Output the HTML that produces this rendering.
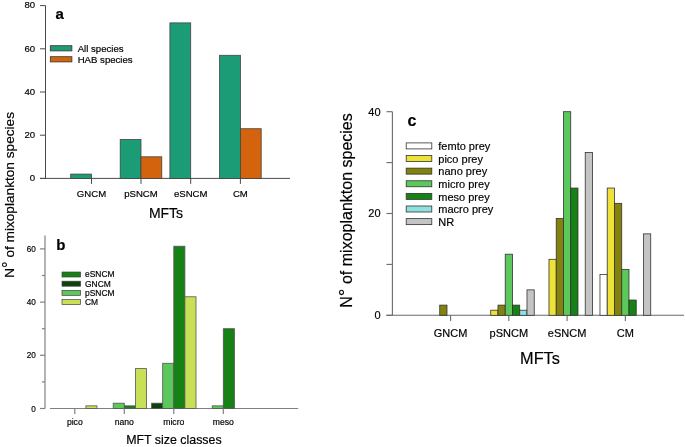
<!DOCTYPE html>
<html><head><meta charset="utf-8"><style>
html,body{margin:0;padding:0;background:#fff;}
body{width:685px;height:447px;overflow:hidden;}
svg{display:block;font-family:"Liberation Sans", sans-serif;will-change:transform;}
text{stroke:#000;stroke-width:0.18px;}
</style></head><body>
<svg width="685" height="447" viewBox="0 0 685 447">
<defs><filter id="bl" filterUnits="userSpaceOnUse" x="0" y="0" width="685" height="447"><feGaussianBlur stdDeviation="0.35"/></filter></defs>
<rect x="0" y="0" width="685" height="447" fill="#fff"/>
<g filter="url(#bl)">
<line x1="45.50" y1="5.50" x2="45.50" y2="178.40" stroke="#4a4a4a" stroke-width="1"/>
<line x1="40.00" y1="178.40" x2="45.50" y2="178.40" stroke="#4a4a4a" stroke-width="1"/>
<text x="35.20" y="181.20" font-size="9.6" text-anchor="end" font-weight="normal" fill="#000" >0</text>
<line x1="40.00" y1="135.20" x2="45.50" y2="135.20" stroke="#4a4a4a" stroke-width="1"/>
<text x="35.20" y="138.00" font-size="9.6" text-anchor="end" font-weight="normal" fill="#000" >20</text>
<line x1="40.00" y1="92.00" x2="45.50" y2="92.00" stroke="#4a4a4a" stroke-width="1"/>
<text x="35.20" y="94.80" font-size="9.6" text-anchor="end" font-weight="normal" fill="#000" >40</text>
<line x1="40.00" y1="48.80" x2="45.50" y2="48.80" stroke="#4a4a4a" stroke-width="1"/>
<text x="35.20" y="51.60" font-size="9.6" text-anchor="end" font-weight="normal" fill="#000" >60</text>
<line x1="40.00" y1="5.60" x2="45.50" y2="5.60" stroke="#4a4a4a" stroke-width="1"/>
<text x="35.20" y="8.40" font-size="9.6" text-anchor="end" font-weight="normal" fill="#000" >80</text>
<line x1="40.00" y1="178.40" x2="290.00" y2="178.40" stroke="#4a4a4a" stroke-width="1"/>
<rect x="70.70" y="174.08" width="20.80" height="4.32" fill="#1e9b77" stroke="#444" stroke-width="0.8"/>
<line x1="91.50" y1="178.40" x2="91.50" y2="183.90" stroke="#4a4a4a" stroke-width="1"/>
<text x="91.50" y="197.20" font-size="9.6" text-anchor="middle" font-weight="normal" fill="#000" >GNCM</text>
<rect x="120.20" y="139.52" width="20.80" height="38.88" fill="#1e9b77" stroke="#444" stroke-width="0.8"/>
<rect x="141.00" y="156.80" width="20.80" height="21.60" fill="#d4630a" stroke="#444" stroke-width="0.8"/>
<line x1="141.00" y1="178.40" x2="141.00" y2="183.90" stroke="#4a4a4a" stroke-width="1"/>
<text x="141.00" y="197.20" font-size="9.6" text-anchor="middle" font-weight="normal" fill="#000" >pSNCM</text>
<rect x="169.90" y="22.88" width="20.80" height="155.52" fill="#1e9b77" stroke="#444" stroke-width="0.8"/>
<line x1="190.70" y1="178.40" x2="190.70" y2="183.90" stroke="#4a4a4a" stroke-width="1"/>
<text x="190.70" y="197.20" font-size="9.6" text-anchor="middle" font-weight="normal" fill="#000" >eSNCM</text>
<rect x="219.60" y="55.28" width="20.80" height="123.12" fill="#1e9b77" stroke="#444" stroke-width="0.8"/>
<rect x="240.40" y="128.72" width="20.80" height="49.68" fill="#d4630a" stroke="#444" stroke-width="0.8"/>
<line x1="240.40" y1="178.40" x2="240.40" y2="183.90" stroke="#4a4a4a" stroke-width="1"/>
<text x="240.40" y="197.20" font-size="9.6" text-anchor="middle" font-weight="normal" fill="#000" >CM</text>
<text x="166.00" y="217.60" font-size="14" text-anchor="middle" font-weight="normal" fill="#000" >MFTs</text>
<text x="55.40" y="19.10" font-size="15" text-anchor="start" font-weight="bold" fill="#000" >a</text>
<rect x="50.30" y="45.70" width="21.60" height="5.20" fill="#1e9b77" stroke="#333" stroke-width="0.8"/>
<rect x="50.30" y="56.70" width="21.60" height="5.20" fill="#d4630a" stroke="#333" stroke-width="0.8"/>
<text x="77.70" y="51.70" font-size="9.6" text-anchor="start" font-weight="normal" fill="#000" >All species</text>
<text x="77.70" y="62.60" font-size="9.6" text-anchor="start" font-weight="normal" fill="#000" >HAB species</text>
<text x="0" y="0" font-size="13.65" fill="#000" text-anchor="middle" transform="translate(14.3,194.9) rotate(-90)">N<tspan font-size="1.2em">°</tspan> of mixoplankton species</text>
<line x1="45.00" y1="235.60" x2="45.00" y2="408.50" stroke="#808080" stroke-width="1.2"/>
<line x1="40.00" y1="408.50" x2="45.00" y2="408.50" stroke="#808080" stroke-width="1.2"/>
<text x="35.80" y="411.60" font-size="8.2" text-anchor="end" font-weight="normal" fill="#000" >0</text>
<line x1="40.00" y1="355.30" x2="45.00" y2="355.30" stroke="#808080" stroke-width="1.2"/>
<text x="35.80" y="358.40" font-size="8.2" text-anchor="end" font-weight="normal" fill="#000" >20</text>
<line x1="40.00" y1="302.10" x2="45.00" y2="302.10" stroke="#808080" stroke-width="1.2"/>
<text x="35.80" y="305.20" font-size="8.2" text-anchor="end" font-weight="normal" fill="#000" >40</text>
<line x1="40.00" y1="248.90" x2="45.00" y2="248.90" stroke="#808080" stroke-width="1.2"/>
<text x="35.80" y="252.00" font-size="8.2" text-anchor="end" font-weight="normal" fill="#000" >60</text>
<line x1="42.00" y1="381.90" x2="45.00" y2="381.90" stroke="#808080" stroke-width="1.2"/>
<line x1="42.00" y1="328.70" x2="45.00" y2="328.70" stroke="#808080" stroke-width="1.2"/>
<line x1="42.00" y1="275.50" x2="45.00" y2="275.50" stroke="#808080" stroke-width="1.2"/>
<line x1="50.00" y1="408.50" x2="298.20" y2="408.50" stroke="#808080" stroke-width="1.2"/>
<rect x="85.90" y="405.84" width="11.10" height="2.66" fill="#c8e055" stroke="#555" stroke-width="0.8"/>
<line x1="74.80" y1="408.50" x2="74.80" y2="414.00" stroke="#808080" stroke-width="1.2"/>
<text x="74.80" y="424.80" font-size="8.6" text-anchor="middle" font-weight="normal" fill="#000" >pico</text>
<rect x="113.20" y="403.18" width="11.10" height="5.32" fill="#5cc85c" stroke="#555" stroke-width="0.8"/>
<rect x="124.30" y="405.84" width="11.10" height="2.66" fill="#138213" stroke="#555" stroke-width="0.8"/>
<rect x="135.40" y="368.60" width="11.10" height="39.90" fill="#c8e055" stroke="#555" stroke-width="0.8"/>
<line x1="124.30" y1="408.50" x2="124.30" y2="414.00" stroke="#808080" stroke-width="1.2"/>
<text x="124.30" y="424.80" font-size="8.6" text-anchor="middle" font-weight="normal" fill="#000" >nano</text>
<rect x="151.60" y="403.18" width="11.10" height="5.32" fill="#0a420a" stroke="#555" stroke-width="0.8"/>
<rect x="162.70" y="363.28" width="11.10" height="45.22" fill="#5cc85c" stroke="#555" stroke-width="0.8"/>
<rect x="173.80" y="246.24" width="11.10" height="162.26" fill="#138213" stroke="#555" stroke-width="0.8"/>
<rect x="184.90" y="296.78" width="11.10" height="111.72" fill="#c8e055" stroke="#555" stroke-width="0.8"/>
<line x1="173.80" y1="408.50" x2="173.80" y2="414.00" stroke="#808080" stroke-width="1.2"/>
<text x="173.80" y="424.80" font-size="8.6" text-anchor="middle" font-weight="normal" fill="#000" >micro</text>
<rect x="212.20" y="405.84" width="11.10" height="2.66" fill="#5cc85c" stroke="#555" stroke-width="0.8"/>
<rect x="223.30" y="328.70" width="11.10" height="79.80" fill="#138213" stroke="#555" stroke-width="0.8"/>
<line x1="223.30" y1="408.50" x2="223.30" y2="414.00" stroke="#808080" stroke-width="1.2"/>
<text x="223.30" y="424.80" font-size="8.6" text-anchor="middle" font-weight="normal" fill="#000" >meso</text>
<text x="173.90" y="443.80" font-size="12.4" text-anchor="middle" font-weight="normal" fill="#000" >MFT size classes</text>
<text x="56.30" y="250.30" font-size="15" text-anchor="start" font-weight="bold" fill="#000" >b</text>
<rect x="62.00" y="272.00" width="18.60" height="5.00" fill="#138213" stroke="#444" stroke-width="0.7"/>
<text x="85.00" y="277.30" font-size="8.45" text-anchor="start" font-weight="normal" fill="#000" >eSNCM</text>
<rect x="62.00" y="281.20" width="18.60" height="5.00" fill="#0a420a" stroke="#444" stroke-width="0.7"/>
<text x="85.00" y="286.50" font-size="8.45" text-anchor="start" font-weight="normal" fill="#000" >GNCM</text>
<rect x="62.00" y="290.40" width="18.60" height="5.00" fill="#5cc85c" stroke="#444" stroke-width="0.7"/>
<text x="85.00" y="295.70" font-size="8.45" text-anchor="start" font-weight="normal" fill="#000" >pSNCM</text>
<rect x="62.00" y="299.60" width="18.60" height="5.00" fill="#c8e055" stroke="#444" stroke-width="0.7"/>
<text x="85.00" y="304.90" font-size="8.45" text-anchor="start" font-weight="normal" fill="#000" >CM</text>
<line x1="392.40" y1="111.70" x2="392.40" y2="315.30" stroke="#6a6a6a" stroke-width="1.1"/>
<line x1="386.50" y1="315.30" x2="392.40" y2="315.30" stroke="#6a6a6a" stroke-width="1.1"/>
<text x="380.60" y="319.20" font-size="11" text-anchor="end" font-weight="normal" fill="#000" >0</text>
<line x1="386.50" y1="213.50" x2="392.40" y2="213.50" stroke="#6a6a6a" stroke-width="1.1"/>
<text x="380.60" y="217.40" font-size="11" text-anchor="end" font-weight="normal" fill="#000" >20</text>
<line x1="386.50" y1="111.70" x2="392.40" y2="111.70" stroke="#6a6a6a" stroke-width="1.1"/>
<text x="380.60" y="115.60" font-size="11" text-anchor="end" font-weight="normal" fill="#000" >40</text>
<line x1="386.40" y1="264.40" x2="392.40" y2="264.40" stroke="#6a6a6a" stroke-width="1.1"/>
<line x1="386.40" y1="162.60" x2="392.40" y2="162.60" stroke="#6a6a6a" stroke-width="1.1"/>
<line x1="386.30" y1="315.30" x2="684.00" y2="315.30" stroke="#6a6a6a" stroke-width="1.1"/>
<rect x="439.73" y="305.12" width="7.25" height="10.18" fill="#82820e" stroke="#333" stroke-width="0.8"/>
<line x1="450.60" y1="315.30" x2="450.60" y2="321.00" stroke="#6a6a6a" stroke-width="1.1"/>
<text x="450.60" y="336.80" font-size="11" text-anchor="middle" font-weight="normal" fill="#000" >GNCM</text>
<rect x="490.73" y="310.21" width="7.25" height="5.09" fill="#eee238" stroke="#333" stroke-width="0.8"/>
<rect x="497.98" y="305.12" width="7.25" height="10.18" fill="#82820e" stroke="#333" stroke-width="0.8"/>
<rect x="505.23" y="254.22" width="7.25" height="61.08" fill="#5cc85c" stroke="#333" stroke-width="0.8"/>
<rect x="512.48" y="305.12" width="7.25" height="10.18" fill="#138213" stroke="#333" stroke-width="0.8"/>
<rect x="519.73" y="310.21" width="7.25" height="5.09" fill="#90e0e0" stroke="#333" stroke-width="0.8"/>
<rect x="526.98" y="289.85" width="7.25" height="25.45" fill="#c4c4c4" stroke="#333" stroke-width="0.8"/>
<line x1="508.85" y1="315.30" x2="508.85" y2="321.00" stroke="#6a6a6a" stroke-width="1.1"/>
<text x="508.85" y="336.80" font-size="11" text-anchor="middle" font-weight="normal" fill="#000" >pSNCM</text>
<rect x="548.98" y="259.31" width="7.25" height="55.99" fill="#eee238" stroke="#333" stroke-width="0.8"/>
<rect x="556.23" y="218.59" width="7.25" height="96.71" fill="#82820e" stroke="#333" stroke-width="0.8"/>
<rect x="563.48" y="111.70" width="7.25" height="203.60" fill="#5cc85c" stroke="#333" stroke-width="0.8"/>
<rect x="570.73" y="188.05" width="7.25" height="127.25" fill="#138213" stroke="#333" stroke-width="0.8"/>
<rect x="585.23" y="152.42" width="7.25" height="162.88" fill="#c4c4c4" stroke="#333" stroke-width="0.8"/>
<line x1="567.10" y1="315.30" x2="567.10" y2="321.00" stroke="#6a6a6a" stroke-width="1.1"/>
<text x="567.10" y="336.80" font-size="11" text-anchor="middle" font-weight="normal" fill="#000" >eSNCM</text>
<rect x="599.98" y="274.58" width="7.25" height="40.72" fill="#ffffff" stroke="#333" stroke-width="0.8"/>
<rect x="607.23" y="188.05" width="7.25" height="127.25" fill="#eee238" stroke="#333" stroke-width="0.8"/>
<rect x="614.48" y="203.32" width="7.25" height="111.98" fill="#82820e" stroke="#333" stroke-width="0.8"/>
<rect x="621.73" y="269.49" width="7.25" height="45.81" fill="#5cc85c" stroke="#333" stroke-width="0.8"/>
<rect x="628.98" y="300.03" width="7.25" height="15.27" fill="#138213" stroke="#333" stroke-width="0.8"/>
<rect x="643.48" y="233.86" width="7.25" height="81.44" fill="#c4c4c4" stroke="#333" stroke-width="0.8"/>
<line x1="625.35" y1="315.30" x2="625.35" y2="321.00" stroke="#6a6a6a" stroke-width="1.1"/>
<text x="625.35" y="336.80" font-size="11" text-anchor="middle" font-weight="normal" fill="#000" >CM</text>
<text x="540.00" y="363.90" font-size="16.3" text-anchor="middle" font-weight="normal" fill="#000" >MFTs</text>
<text x="407.50" y="125.80" font-size="16" text-anchor="start" font-weight="bold" fill="#000" >c</text>
<rect x="406.20" y="142.90" width="25.60" height="6.00" fill="#ffffff" stroke="#333" stroke-width="0.8"/>
<text x="438.30" y="150.10" font-size="11" text-anchor="start" font-weight="normal" fill="#000" >femto prey</text>
<rect x="406.20" y="155.52" width="25.60" height="6.00" fill="#eee238" stroke="#333" stroke-width="0.8"/>
<text x="438.30" y="162.72" font-size="11" text-anchor="start" font-weight="normal" fill="#000" >pico prey</text>
<rect x="406.20" y="168.14" width="25.60" height="6.00" fill="#82820e" stroke="#333" stroke-width="0.8"/>
<text x="438.30" y="175.34" font-size="11" text-anchor="start" font-weight="normal" fill="#000" >nano prey</text>
<rect x="406.20" y="180.76" width="25.60" height="6.00" fill="#5cc85c" stroke="#333" stroke-width="0.8"/>
<text x="438.30" y="187.96" font-size="11" text-anchor="start" font-weight="normal" fill="#000" >micro prey</text>
<rect x="406.20" y="193.38" width="25.60" height="6.00" fill="#138213" stroke="#333" stroke-width="0.8"/>
<text x="438.30" y="200.58" font-size="11" text-anchor="start" font-weight="normal" fill="#000" >meso prey</text>
<rect x="406.20" y="206.00" width="25.60" height="6.00" fill="#90e0e0" stroke="#333" stroke-width="0.8"/>
<text x="438.30" y="213.20" font-size="11" text-anchor="start" font-weight="normal" fill="#000" >macro prey</text>
<rect x="406.20" y="218.62" width="25.60" height="6.00" fill="#c4c4c4" stroke="#333" stroke-width="0.8"/>
<text x="438.30" y="225.82" font-size="11" text-anchor="start" font-weight="normal" fill="#000" >NR</text>
<text x="0" y="0" font-size="16" fill="#000" text-anchor="middle" transform="translate(351.5,210.5) rotate(-90)">N<tspan font-size="1.2em">°</tspan> of mixoplankton species</text>
</g>
</svg>
</body></html>
